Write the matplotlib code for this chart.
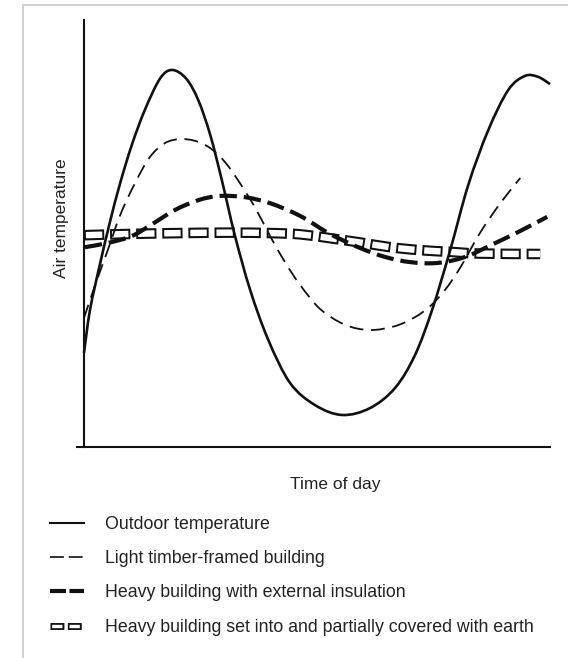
import matplotlib
matplotlib.use("Agg")
import numpy as np
import matplotlib.pyplot as plt
from matplotlib.lines import Line2D
from matplotlib.path import Path
from matplotlib.patches import PathPatch

plt.rcParams['font.family'] = ['Liberation Sans', 'DejaVu Sans']
plt.rcParams['lines.scale_dashes'] = False

INK = '#111111'

# Time of day runs 0..100 along the axis, air temperature 0..100 up the axis (no units shown)
outdoor_x = [0, 1.3, 3.4, 5.6, 7.8, 10.3, 13.1, 16.4, 19.0, 22.0, 24.6, 27.2, 29.7, 32.5,
             35.8, 39.7, 44.4, 49.8, 55.6, 61.6, 67.0, 71.3, 75.0, 78.9, 82.8, 87.1,
             91.4, 95.0, 97.8, 100.4]
outdoor_y = [22.0, 32.1, 42.6, 52.7, 61.8, 70.7, 78.9, 86.3, 88.3, 86.3, 81.3, 73.1, 62.5, 49.6,
             36.8, 25.1, 15.0, 9.8, 7.5, 9.1, 13.8, 21.5, 32.1, 46.1, 61.4, 74.2,
             83.6, 86.9, 86.7, 85.0]

timber_x = [0, 2.4, 5.0, 7.8, 11.0, 14.2, 17.5, 20.7, 23.9, 27.2, 30.4, 33.6, 36.9, 40.1,
            43.3, 46.6, 50.9, 56.3, 61.6, 67.0, 71.3, 74.6, 77.8, 81.0, 85.3, 89.7, 94.0]
timber_y = [30.2, 37.9, 45.7, 54.3, 61.8, 67.9, 71.2, 72.1, 71.7, 70.0, 66.7, 61.8, 56.0, 49.4,
            43.3, 37.9, 32.3, 28.6, 27.4, 28.3, 30.4, 33.0, 36.8, 41.9, 50.1, 57.1, 63.0]

insulated_x = [0.2, 5.2, 10.3, 14.7, 19.6, 24.6, 29.3, 34.7, 40.1, 46.6, 53.0, 59.5, 64.9,
               70.3, 76.1, 82.1, 88.1, 94.0, 99.8]
insulated_y = [46.8, 47.8, 49.4, 52.2, 55.5, 57.8, 58.8, 58.5, 57.1, 54.1, 49.9, 46.6, 44.5,
               43.3, 43.1, 44.5, 47.5, 50.6, 53.9]

earth_x = [0, 10.1, 20.7, 31.5, 40.1, 46.6, 53.0, 59.5, 65.9, 72.4, 78.9, 85.3, 98.3]
earth_y = [49.6, 49.9, 50.1, 50.2, 50.1, 49.8, 48.9, 47.9, 46.8, 46.1, 45.7, 45.3, 45.2]

labels = [
    'Outdoor temperature',
    'Light timber-framed building',
    'Heavy building with external insulation',
    'Heavy building set into and partially covered with earth',
]


def smooth_path(xs, ys):
    """Catmull-Rom curve through the points, as cubic Bezier segments."""
    p = np.column_stack([xs, ys]).astype(float)
    p = np.vstack([p[0], p, p[-1]])
    verts = [p[1]]
    codes = [Path.MOVETO]
    for i in range(1, len(p) - 2):
        c1 = p[i] + (p[i + 1] - p[i - 1]) / 6
        c2 = p[i + 1] - (p[i + 2] - p[i]) / 6
        verts += [c1, c2, p[i + 1]]
        codes += [Path.CURVE4] * 3
    return Path(verts, codes)


def curve(ax, xs, ys, **kw):
    patch = PathPatch(smooth_path(xs, ys), fill=False, capstyle='butt',
                      joinstyle='round', clip_on=False, **kw)
    ax.add_patch(patch)
    return patch


W, H = 568, 658
fig = plt.figure(figsize=(W / 100, H / 100), dpi=100)
ax = fig.add_axes([77 / W, 1 - 447 / H, 473 / W, 427 / H])
ax.set_xlim(-1.5, 100.4)
ax.set_ylim(0, 100)

# hollow boxes: thick black dashes with a thinner white dash inset
curve(ax, earth_x, earth_y, edgecolor=INK, lw=7.6, ls=(0, (14.6, 4.2)), zorder=2)
curve(ax, earth_x, earth_y, edgecolor='white', lw=4.6, ls=(17.4, (11.8, 7.0)), zorder=2.1)

curve(ax, outdoor_x, outdoor_y, edgecolor=INK, lw=1.9, zorder=3)
curve(ax, timber_x, timber_y, edgecolor=INK, lw=1.3, ls=(0, (10, 5.5)), zorder=3)
curve(ax, insulated_x, insulated_y, edgecolor=INK, lw=3.0, ls=(0, (12.5, 5)), zorder=3)

for side in ['top', 'right']:
    ax.spines[side].set_visible(False)
ax.spines['left'].set_position(('data', 0))
for side in ['left', 'bottom']:
    ax.spines[side].set_linewidth(1.5)
    ax.spines[side].set_color(INK)
ax.set_xticks([])
ax.set_yticks([])

ax.set_ylabel('Air temperature', fontsize=12.5, color='#222222', va='center', ha='center')
ax.yaxis.set_label_coords((61 - 77) / 473, (447 - 218) / 427)
ax.set_xlabel('Time of day', fontsize=12.5, color='#222222', va='center', ha='center')
ax.xaxis.set_label_coords((335 - 77) / 473, (447 - 485) / 427)

# legend proxies
h_out = Line2D([], [], color=INK, lw=1.5)
h_timber = Line2D([], [], color=INK, lw=1.2, ls=(0, (10, 3.5)), dash_capstyle='butt')
h_heavy = Line2D([], [], color=INK, lw=3.0, ls=(0, (11.5, 2.5)), dash_capstyle='butt')
h_box_out = Line2D([], [], color=INK, lw=5.0, ls=(0, (10.0, 2.5)), dash_capstyle='butt')
h_box_in = Line2D([], [], color='white', lw=2.4, ls=(11.3, (7.4, 5.1)), dash_capstyle='butt')

fig.legend([h_out, h_timber, h_heavy, (h_box_out, h_box_in)], labels,
           loc='upper left', bbox_to_anchor=(50 / W, 1 - 516 / H),
           frameon=False, fontsize=12.8, handlelength=1.9, handletextpad=1.2,
           labelspacing=0.97, borderpad=0, borderaxespad=0, labelcolor='#222222')

# thin grey frame along the left and top edges
fig.add_artist(Line2D([23 / W, 23 / W, 1], [0, 1 - 5 / H, 1 - 5 / H],
                      transform=fig.transFigure, color='#c8c8c8', lw=1.2))

fig.savefig('out.png', dpi=100, facecolor='white')
